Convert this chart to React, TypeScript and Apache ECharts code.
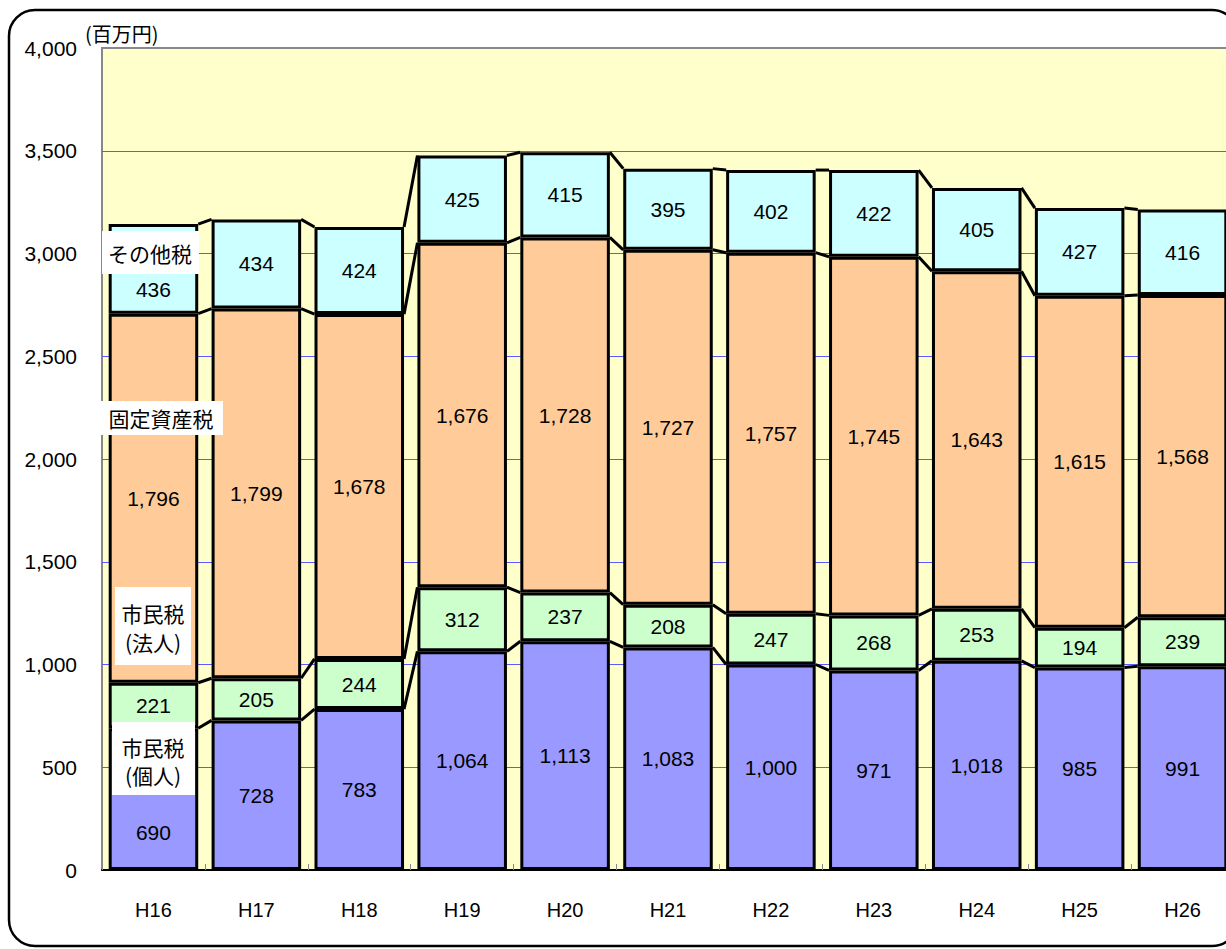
import React, { useEffect, useRef } from "react";
import * as echarts from "echarts";

const categories = ["H16", "H17", "H18", "H19", "H20", "H21", "H22", "H23", "H24", "H25", "H26"];
const kojin = [690, 728, 783, 1064, 1113, 1083, 1000, 971, 1018, 985, 991];
const hojin = [221, 205, 244, 312, 237, 208, 247, 268, 253, 194, 239];
const kotei = [1796, 1799, 1678, 1676, 1728, 1727, 1757, 1745, 1643, 1615, 1568];
const sonota = [436, 434, 424, 425, 415, 395, 402, 422, 405, 427, 416];
const yTicks = [0, 500, 1000, 1500, 2000, 2500, 3000, 3500, 4000];

const NUM_FONT = "Arial, 'Liberation Sans', sans-serif";
const JP_FONT = "'Noto Sans CJK JP', sans-serif";
const BAR_RATIO = 0.87;

export default function App() {
  const ref = useRef<HTMLDivElement>(null);
  useEffect(() => {
    if (!ref.current) return;
    const chart = echarts.init(ref.current, undefined, { renderer: "svg" });

    const seriesVals = [kojin, hojin, kotei, sonota];
    const cum = categories.map((_, i) => {
      let s = 0;
      return seriesVals.map((arr) => (s += arr[i]));
    });
    const connData = categories.slice(0, -1).map((c, i) => [c, ...cum[i], ...cum[i + 1]]);

    const label = () => ({
      show: true,
      position: "inside" as const,
      color: "#000",
      fontSize: 21,
      fontFamily: NUM_FONT,
      formatter: (p: any) => Number(p.value).toLocaleString("en-US"),
    });

    const mkData = (arr: number[], firstOffset: number) =>
      arr.map((v, i) =>
        i === 0 && firstOffset ? { value: v, label: { offset: [0, firstOffset] } } : v
      );

    const barSeries = [
      { name: "市民税（個人）", data: mkData(kojin, 33), color: "#9999FF" },
      { name: "市民税（法人）", data: mkData(hojin, 0), color: "#CCFFCC" },
      { name: "固定資産税", data: mkData(kotei, 0), color: "#FFCC99" },
      { name: "その他税", data: mkData(sonota, 21), color: "#CCFFFF" },
    ].map((s) => ({
      type: "bar",
      name: s.name,
      stack: "total",
      barWidth: BAR_RATIO * 100 + "%",
      data: s.data,
      itemStyle: { color: s.color, borderColor: "#000", borderWidth: 3 },
      label: label(),
      z: 3,
    }));

    const jpText = (text: string, x: number, y: number) => ({
      type: "text",
      z: 101,
      style: {
        text,
        x,
        y,
        fill: "#000",
        fontSize: 21,
        fontFamily: JP_FONT,
        align: "center",
        verticalAlign: "middle",
      },
    });
    const whiteBox = (x: number, y: number, w: number, h: number) => ({
      type: "rect",
      z: 100,
      shape: { x, y, width: w, height: h },
      style: { fill: "#FFFFFF" },
    });

    chart.setOption({
      animation: false,
      grid: {
        left: 102,
        top: 48,
        width: 1132,
        height: 822,
        show: true,
        backgroundColor: "#FFFFCC",
        borderColor: "#888888",
        borderWidth: 2,
      },
      xAxis: {
        type: "category",
        data: categories,
        axisLine: { show: true, lineStyle: { color: "#000", width: 2 } },
        axisTick: { show: true, inside: true, length: 6, lineStyle: { color: "#888" } },
        axisLabel: { color: "#000", fontSize: 20, fontFamily: NUM_FONT, margin: 30 },
      },
      yAxis: {
        type: "value",
        min: 0,
        max: 4000,
        interval: 500,
        axisLine: { show: false },
        axisTick: { show: false },
        splitLine: {
          show: true,
          showMaxLine: false,
          showMinLine: false,
          lineStyle: { color: "#5a5aff", width: 1 },
        },
        axisLabel: {
          color: "#000",
          fontSize: 21,
          fontFamily: NUM_FONT,
          margin: 25,
          customValues: yTicks,
          formatter: (v: number) => v.toLocaleString("en-US"),
        },
      },
      series: [
        ...barSeries,
        {
          type: "custom",
          name: "connectors",
          data: connData,
          z: 4,
          silent: true,
          renderItem: (params: any, api: any) => {
            const i = params.dataIndex;
            const band = api.size([1, 0])[0];
            const half = (band * BAR_RATIO) / 2;
            const children: any[] = [];
            for (let k = 0; k < 4; k++) {
              const p0 = api.coord([i, api.value(1 + k)]);
              const p1 = api.coord([i + 1, api.value(5 + k)]);
              children.push({
                type: "line",
                shape: { x1: p0[0] + half, y1: p0[1], x2: p1[0] - half, y2: p1[1] },
                style: { stroke: "#000", lineWidth: 3 },
              });
            }
            return { type: "group", children };
          },
        },
      ],
      graphic: [
        {
          type: "rect",
          z: -10,
          shape: { x: 9, y: 10, width: 1229, height: 936, r: 26 },
          style: { fill: null, stroke: "#000", lineWidth: 2.5 },
        },
        {
          type: "text",
          z: 101,
          style: {
            text: "(百万円)",
            x: 85,
            y: 33,
            fill: "#000",
            fontSize: 20,
            fontFamily: JP_FONT,
            align: "left",
            verticalAlign: "middle",
          },
        },
        whiteBox(102, 231, 97, 43),
        jpText("その他税", 150, 253),
        whiteBox(100, 401, 123, 34),
        jpText("固定資産税", 161, 418),
        whiteBox(115, 587, 76, 78),
        jpText("市民税", 153, 613),
        jpText("(法人)", 153, 642),
        whiteBox(112, 722, 83, 73),
        jpText("市民税", 153, 747),
        jpText("(個人)", 153, 775),
      ],
    });
    return () => chart.dispose();
  }, []);

  return (
    <div
      style={{
        position: "fixed",
        left: 0,
        top: 0,
        width: 1226,
        height: 949,
        overflow: "hidden",
        background: "#fff",
      }}
    >
      <div ref={ref} style={{ width: 1260, height: 949 }} />
    </div>
  );
}
